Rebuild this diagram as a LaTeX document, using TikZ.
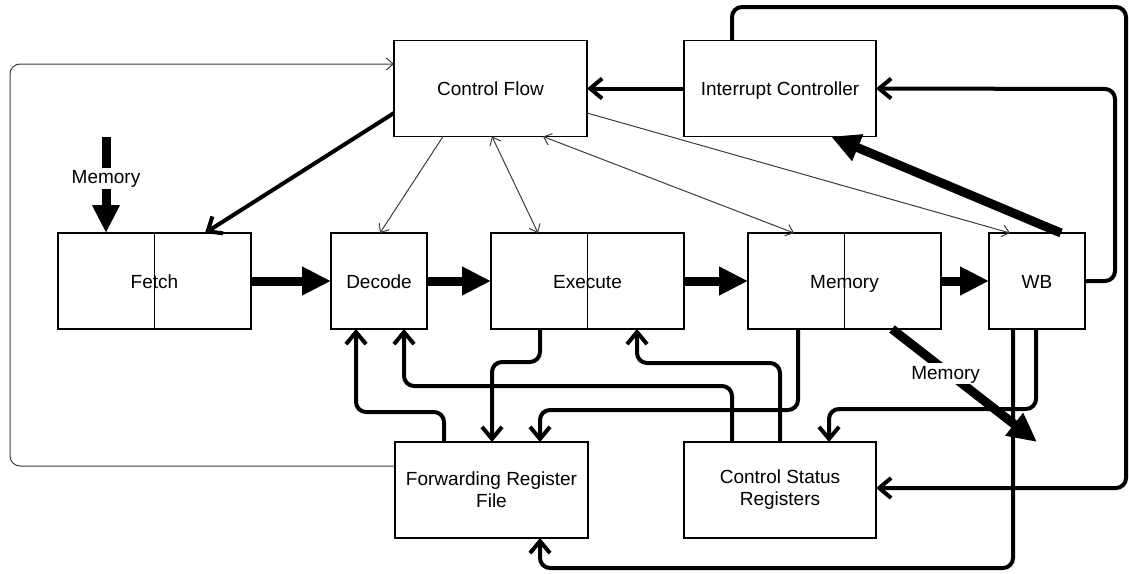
\documentclass[tikz,border=0pt]{standalone}
\usepackage{fontspec}
\setmainfont{Liberation Sans}
\usetikzlibrary{arrows.meta}
\begin{document}
\begin{tikzpicture}[x=1pt,y=-1pt,
  box/.style={draw=black,line width=1.3pt,fill=white,minimum width=193pt,minimum height=96pt,inner sep=0pt,outer sep=0pt,align=center,font=\fontsize{19pt}{22pt}\selectfont},
  one/.style={text height=14pt,text depth=0pt},
  narrow/.style={box,minimum width=96pt},
  divider/.style={draw=black,line width=1.3pt},
  thinc/.style={draw={rgb,255:red,60;green,60;blue,60},line width=1pt},
  thinhead/.style={thinc,-{Straight Barb[length=7pt,width=12pt]}},
  thinboth/.style={thinc,{Straight Barb[length=7pt,width=12pt]}-{Straight Barb[length=7pt,width=12pt]}},
  thickc/.style={draw=black,line width=4pt,rounded corners=10pt,-{Straight Barb[length=12pt,width=20pt]}},
  fatc/.style={draw=black,line width=9pt,-{Triangle[length=29pt,width=27pt]}},
  lbl/.style={fill=white,inner sep=2pt,text height=14pt,text depth=3pt,font=\fontsize{19pt}{22pt}\selectfont}
]
\useasboundingbox (0,0) rectangle (1129,573);

% boxes
\node[box,one] (cf) at (490.5,88.5) {Control Flow};
\node[box,one,minimum width=192pt] (ic) at (780,88.5) {Interrupt Controller};
\node[box,one] (fetch) at (154.5,281) {Fetch};
\node[narrow,one] (dec) at (379,281) {Decode};
\node[box,one] (exe) at (587.5,281) {Execute};
\node[box,one] (mem) at (844.5,281) {Memory};
\node[narrow,one] (wb) at (1037,281) {WB};
\node[box] (frf) at (491.5,490) {Forwarding Register\\File};
\node[box,minimum width=192pt] (csr) at (780,490) {Control Status\\Registers};

% dividers of the stage boxes
\draw[divider] (fetch.north) -- (fetch.south);
\draw[divider] (exe.north) -- (exe.south);
\draw[divider] (mem.north) -- (mem.south);

% free ends
\coordinate (memin) at (106,137);
\coordinate (memout) at (1037,442);

% thin connectors
\draw[thinhead] (443,0 |- cf.south) -- (380,0 |- dec.north);
\draw[thinboth] (492,0 |- cf.south) -- (538,0 |- exe.north);
\draw[thinboth] (543,0 |- cf.south) -- (794,0 |- mem.north);
\draw[thinhead] (cf.east |- 0,113) -- (1010,0 |- wb.north);
\draw[thinhead,rounded corners=10pt] (frf.west |- 0,466) -- (10,466) -- (10,64) -- (cf.west |- 0,64);

% thick connectors
\draw[thickc] (cf.west |- 0,113) -- (205,0 |- fetch.north);
\draw[thickc] (ic.west) -- (cf.east);
\draw[thickc] (732,0 |- ic.north) -- (732,7) -- (1126,7) -- (1126,488) -- (csr.east |- 0,488);
\draw[thickc] (wb.east) -- (1115,281) -- (1115,89) -- (ic.east);
\draw[thickc] (540,0 |- exe.south) -- (540,362) -- (492,362) -- (492,0 |- frf.north);
\draw[thickc] (444,0 |- frf.north) -- (444,412) -- (356,412) -- (356,0 |- dec.south);
\draw[thickc] (732,0 |- csr.north) -- (732,386) -- (404,386) -- (404,0 |- dec.south);
\draw[thickc] (780,0 |- csr.north) -- (780,363) -- (637,363) -- (637,0 |- exe.south);
\draw[thickc] (798,0 |- mem.south) -- (798,410) -- (540,410) -- (540,0 |- frf.north);
\draw[thickc] (1036,0 |- wb.south) -- (1036,409) -- (829,409) -- (829,0 |- csr.north);
\draw[thickc] (1013,0 |- wb.south) -- (1013,568) -- (540,568) -- (540,0 |- frf.south);

% fat connectors
\draw[fatc] (fetch.east) -- (dec.west);
\draw[fatc] (dec.east) -- (exe.west);
\draw[fatc] (exe.east) -- (mem.west);
\draw[fatc] (mem.east) -- (wb.west);
\draw[fatc,-{Triangle[length=28pt,width=26pt]}] (memin) -- node[lbl,pos=0.43] {Memory} (106,0 |- fetch.north);
\draw[fatc] (892,0 |- mem.south) -- node[lbl,pos=0.37,yshift=-3pt] {Memory} (memout);
\draw[fatc] (1061,0 |- wb.north) -- (831,0 |- ic.south);
\end{tikzpicture}
\end{document}
